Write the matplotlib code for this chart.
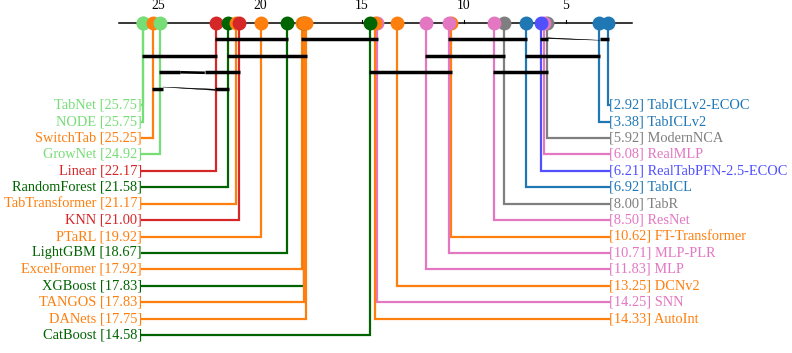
import matplotlib
matplotlib.use("Agg")
import matplotlib.pyplot as plt

# average ranks (lower is better)
left_names = ["TabNet", "NODE", "SwitchTab", "GrowNet", "Linear", "RandomForest",
              "TabTransformer", "KNN", "PTaRL", "LightGBM", "ExcelFormer",
              "XGBoost", "TANGOS", "DANets", "CatBoost"]
left_ranks = [25.75, 25.75, 25.25, 24.92, 22.17, 21.58,
              21.17, 21.00, 19.92, 18.67, 17.92,
              17.83, 17.83, 17.75, 14.58]

right_names = ["TabICLv2-ECOC", "TabICLv2", "ModernNCA", "RealMLP",
               "RealTabPFN-2.5-ECOC", "TabICL", "TabR", "ResNet",
               "FT-Transformer", "MLP-PLR", "MLP", "DCNv2", "SNN", "AutoInt"]
right_ranks = [2.92, 3.38, 5.92, 6.08, 6.21, 6.92, 8.00, 8.50,
               10.62, 10.71, 11.83, 13.25, 14.25, 14.33]

# groups with no significant difference (first / last member)
cliques = [("Linear", "LightGBM"), ("ExcelFormer", "SNN"),
           ("MLP-PLR", "TabICL"), ("RealTabPFN-2.5-ECOC", "TabICLv2-ECOC"),
           ("TabNet", "Linear"), ("RandomForest", "DANets"),
           ("MLP", "TabR"), ("TabICL", "TabICLv2"),
           ("GrowNet", "KNN"), ("CatBoost", "FT-Transformer"),
           ("ResNet", "ModernNCA"),
           ("SwitchTab", "RandomForest")]
clique_rows = [1, 1, 1, 1, 2, 2, 2, 2, 3, 3, 3, 4]

LGREEN, ORANGE, DGREEN, RED = "#77dd77", "#ff7f0e", "#006400", "#d62728"
PINK, GRAY, BLUE, PURPLE = "#e377c2", "#7f7f7f", "#1f77b4", "#5050ff"
colors = {
    "TabNet": LGREEN, "NODE": LGREEN, "GrowNet": LGREEN, "SwitchTab": ORANGE,
    "Linear": RED, "KNN": RED, "RandomForest": DGREEN, "LightGBM": DGREEN,
    "XGBoost": DGREEN, "CatBoost": DGREEN, "TabTransformer": ORANGE,
    "PTaRL": ORANGE, "ExcelFormer": ORANGE, "TANGOS": ORANGE, "DANets": ORANGE,
    "TabICLv2-ECOC": BLUE, "TabICLv2": BLUE, "TabICL": BLUE, "ModernNCA": GRAY,
    "TabR": GRAY, "RealMLP": PINK, "ResNet": PINK, "MLP-PLR": PINK, "MLP": PINK,
    "SNN": PINK, "RealTabPFN-2.5-ECOC": PURPLE, "FT-Transformer": ORANGE,
    "DCNv2": ORANGE, "AutoInt": ORANGE,
}

plt.rcParams["font.family"] = ["Liberation Serif", "DejaVu Serif"]

rank_of = dict(zip(left_names + right_names, left_ranks + right_ranks))
all_ranks = left_ranks + right_ranks
lo_all, hi_all = min(all_ranks), max(all_ranks)

fig = plt.figure(figsize=(7.92, 3.53), dpi=100)
ax = fig.add_axes([0, 0, 1, 1])
ax.axis("off")
ax.set_xlim(32.75, -6.11)
ax.set_ylim(20.09, -1.40)

# rank axis
ax.plot([hi_all + 1.16, lo_all - 1.18], [0, 0], color="black", lw=1.1, zorder=1)
for t in [25, 20, 15, 10, 5]:
    ax.plot([t, t], [0, -0.2], color="black", lw=0.8, zorder=1)
    ax.text(t, -1.05, str(t), ha="center", va="center", fontsize=9.8)

first_row = 5
lw_conn = 1.6
fs = 10.4

# right side first (top-down), then left side
x_right = lo_all - 0.05
for i, (n, r) in enumerate(zip(right_names, right_ranks)):
    y = first_row + i
    c = colors[n]
    ax.plot([r, r, x_right], [0, y, y], color=c, lw=lw_conn,
            solid_joinstyle="miter", zorder=2)
    ax.plot(r, 0, "o", ms=9, color=c, zorder=4)
    ax.text(x_right, y, f"[{r:.2f}] {n}", ha="left", va="center",
            color=c, fontsize=fs)

x_left = hi_all + 0.03
for i, (n, r) in enumerate(zip(left_names, left_ranks)):
    y = first_row + i
    c = colors[n]
    ax.plot([r, r, x_left], [0, y, y], color=c, lw=lw_conn,
            solid_joinstyle="miter", zorder=2)
    ax.plot(r, 0, "o", ms=9, color=c, zorder=4)
    ax.text(x_left, y, f"{n} [{r:.2f}]", ha="right", va="center",
            color=c, fontsize=fs)

# clique bars
ext = 0.05
bar_lw = 2.5
for (a, b), row in zip(cliques, clique_rows):
    hi = rank_of[a] + ext
    lo = rank_of[b] - ext
    if (a, b) == ("SwitchTab", "RandomForest"):
        # drawn as a twisted bar: thick ends, thin middle
        ax.plot([hi, 24.75], [row, row], color="black", lw=bar_lw,
                solid_capstyle="butt", zorder=3)
        ax.plot([22.2, lo], [row, row], color="black", lw=bar_lw,
                solid_capstyle="butt", zorder=3)
        ax.fill([24.75, 22.2, 22.2], [row - 0.1, row + 0.03, row + 0.1],
                color="black", lw=0.3, zorder=3)
    elif (a, b) == ("RealTabPFN-2.5-ECOC", "TabICLv2-ECOC"):
        ax.plot([hi, 5.86], [row, row], color="black", lw=bar_lw,
                solid_capstyle="butt", zorder=3)
        ax.plot([3.33, lo], [row, row], color="black", lw=bar_lw,
                solid_capstyle="butt", zorder=3)
        ax.fill([5.86, 5.86, 3.33], [row - 0.1, row - 0.05, row + 0.05],
                color="black", lw=0.3, zorder=3)
    elif (a, b) == ("GrowNet", "KNN"):
        ax.plot([hi, 23.9], [row, row], color="black", lw=bar_lw,
                solid_capstyle="butt", zorder=3)
        ax.plot([23.9, 22.7], [row, row + 0.03], color="black", lw=1.9,
                solid_capstyle="butt", zorder=3)
        ax.plot([22.7, lo], [row, row], color="black", lw=bar_lw,
                solid_capstyle="butt", zorder=3)
    else:
        ax.plot([hi, lo], [row, row], color="black", lw=bar_lw,
                solid_capstyle="butt", zorder=3)

fig.savefig("out.png", dpi=100)
